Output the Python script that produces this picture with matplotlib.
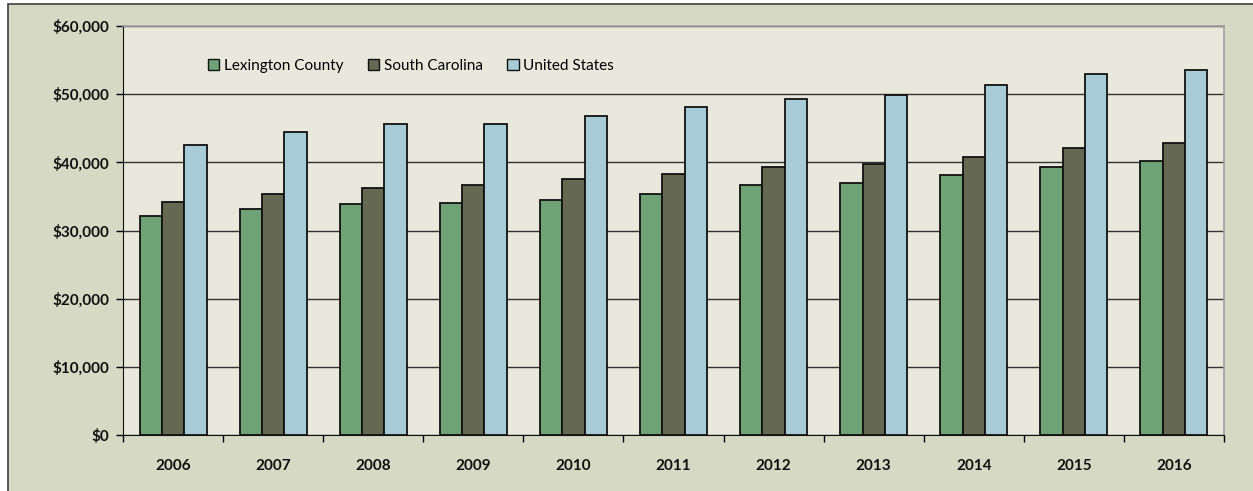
import numpy as np
import matplotlib
matplotlib.use("Agg")
import matplotlib.pyplot as plt
from matplotlib.patches import Rectangle
from matplotlib.ticker import FuncFormatter, FixedLocator

years = ["2006", "2007", "2008", "2009", "2010", "2011", "2012", "2013", "2014", "2015", "2016"]
lexington = [32200, 33130, 33900, 34000, 34490, 35420, 36730, 37030, 38150, 39280, 40250]
south_carolina = [34250, 35370, 36300, 36730, 37570, 38350, 39320, 39800, 40830, 42050, 42880]
united_states = [42490, 44490, 45620, 45620, 46730, 48050, 49270, 49850, 51320, 52930, 53510]

series_names = ["Lexington County", "South Carolina", "United States"]
colors = ["#6fa375", "#656952", "#a8ccd7"]

plt.rcParams['font.family'] = ['Lato', 'DejaVu Sans']

fig = plt.figure(figsize=(12.53, 4.91), dpi=100)
fig.patch.set_facecolor("white")
# outer chart frame
W, H = 1253, 491
frame = Rectangle((8 / W, -0.01), 1.0, 1 - 4 / H + 0.01, transform=fig.transFigure,
                  facecolor="#d6d9c3", edgecolor="#404040", linewidth=1.2, zorder=-5)
fig.add_artist(frame)

ax = fig.add_axes([123 / W, 1 - 435 / H, (1224 - 123) / W, (435 - 26) / H])
ax.set_zorder(1)
ax.set_facecolor("#e8e9dc")

x = np.arange(len(years))
bw = 0.223
for i, (vals, name, c) in enumerate(zip([lexington, south_carolina, united_states], series_names, colors)):
    ax.bar(x + (i - 1) * bw, vals, bw, color=c, edgecolor="#111111", linewidth=1.3,
           label=name, zorder=3)

ax.set_xlim(-0.5, len(years) - 0.5)
ax.set_ylim(0, 60000)
ax.set_yticks(np.arange(0, 60001, 10000))
ax.yaxis.set_major_formatter(FuncFormatter(lambda v, p: "${:,.0f}".format(v)))
ax.yaxis.grid(True, color="#333333", linewidth=1.0, zorder=1)
ax.set_axisbelow(True)

ax.set_xticks(x)
ax.set_xticklabels(years)
ax.xaxis.set_minor_locator(FixedLocator(np.arange(-0.5, len(years), 1.0)))
ax.tick_params(axis="x", which="major", length=0, pad=17)
ax.tick_params(axis="x", which="minor", length=5, width=1, direction="out")
ax.tick_params(axis="y", length=5, width=1, direction="out", pad=5)
for lab in ax.get_xticklabels() + ax.get_yticklabels():
    lab.set_fontweight("bold")
    lab.set_fontsize(11)
    lab.set_color("#111111")

ax.spines["left"].set_color("#111111")
ax.spines["bottom"].set_color("#111111")
ax.spines["top"].set_color("#a0a0a0")
ax.spines["right"].set_color("#a0a0a0")
ax.spines["top"].set_linewidth(1.2)
ax.spines["right"].set_linewidth(1.2)

leg = ax.legend(loc="upper left", bbox_to_anchor=(0.0715, 0.935), ncol=3, frameon=False,
                fontsize=11, handlelength=0.75, handleheight=0.75, handletextpad=0.3,
                columnspacing=1.6, borderaxespad=0)
for h in leg.legend_handles:
    h.set_linewidth(1.0)

fig.savefig("out.png", dpi=100)
